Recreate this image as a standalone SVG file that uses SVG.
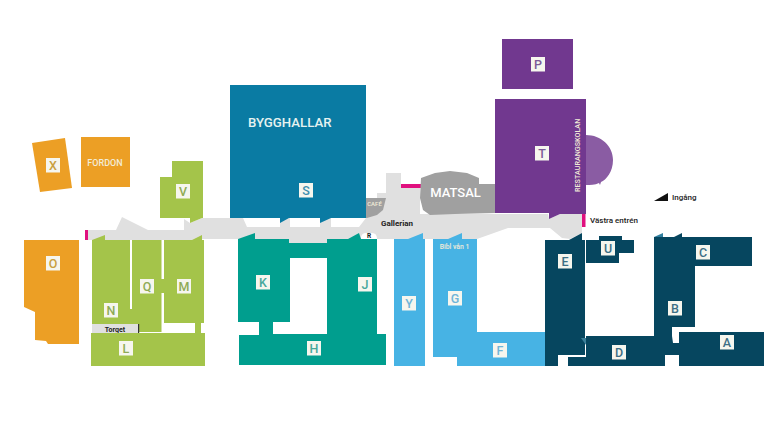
<svg xmlns="http://www.w3.org/2000/svg" width="780" height="440" viewBox="0 0 780 440">
<style>
text{font-family:"Roboto","Liberation Sans",sans-serif}
.box{fill:#f6f6ee}
.ltr{font-size:12.500px;font-weight:500;text-anchor:middle}
.lab{font-weight:500;fill:#f2ecd8}
.blk{font-weight:700;fill:#222}
.or{fill:#ec9f25}.gr{fill:#a4c44a}.te{fill:#009e8e}.bl{fill:#47b3e4}.na{fill:#06465f}.sb{fill:#0a7ba3}.pu{fill:#71388f}
.tna{fill:#2f7f9f}
</style>
<rect width="780" height="440" fill="#fff"/>
<g id="corridor">
<path fill="#e0e0e0" d="M88,230H116L122,217L148,230H184V219L190,223L202,218H243L247,227H280V218H290V227H320V218H331V227H359L366,218V198H377V193H386V173H401V188H420V214H495V214H548L549,219L560,214H582V227L582,233L570,239L562,238L550,228H508L477,239H361V233H377V239H361L348,239H327V243H289V239H204L192,240H88Z"/>
<path fill="#fff" d="M361,239V237Q362,233 366,233H372Q377,233 377,239Z"/>
</g>
<g id="connectors">
<rect x="85" y="230" width="3" height="10" fill="#e0107f"/>
<rect x="401" y="184" width="20" height="4" fill="#e0107f"/>
<rect x="582" y="213" width="3.500" height="14" fill="#e0107f"/>
<path fill="#111" d="M654,201L668,193V201Z"/>
</g>
<g id="X"><path class="or" d="M32,143L65,138L72,188L40,192Z"/><rect class="box" x="46" y="158" width="14" height="14.500"/><text class="ltr" x="53" y="169.700" fill="#c9a040">X</text></g>
<g id="FORDON"><rect class="or" x="81" y="137" width="49" height="50"/><text class="lab" x="105" y="165.500" font-size="9" text-anchor="middle">FORDON</text></g>
<g id="V"><path class="gr" d="M172,161H203V218H202L190,223V218H160V177H172Z"/><rect class="box" x="176" y="184" width="14" height="14.500"/><text class="ltr" x="183" y="195.700" fill="#8fab55">V</text></g>
<g id="O"><path class="or" d="M24,240H79V344H48L46,341L35,340V312L24,307Z"/><rect class="box" x="46" y="256" width="14" height="14.500"/><text class="ltr" x="53" y="267.700" fill="#c9a040">O</text></g>
<g id="N"><path class="gr" d="M92,240L105,235V240H130V309H132V240H161.500V332H92Z"/><rect class="box" x="104" y="303" width="14" height="14.500"/><text class="ltr" x="111" y="314.700" fill="#8fab55">N</text></g>
<g id="Q"><rect class="box" x="140" y="279" width="14" height="14.500"/><text class="ltr" x="147" y="290.700" fill="#8fab55">Q</text></g>
<g id="M"><path class="gr" d="M164,240H192L202,235V240H204V323H201V334H195V323H164V293H161V279H164Z"/><rect class="box" x="177" y="279" width="14" height="14.500"/><text class="ltr" x="184" y="290.700" fill="#8fab55">M</text></g>
<g id="Torget"><rect x="92" y="324" width="46" height="9" fill="#e0e0e0"/><rect x="138" y="324" width="1.200" height="10" fill="#333"/><text class="blk" x="115" y="331.500" font-size="7" text-anchor="middle">Torget</text></g>
<g id="L"><rect class="gr" x="91" y="333" width="114" height="33"/><rect class="box" x="119" y="341" width="14" height="14.500"/><text class="ltr" x="126" y="352.700" fill="#8fab55">L</text></g>
<g id="S"><path class="sb" d="M230,85H366V218H331L320,223V218H289L280,223V218H230Z"/><rect class="box" x="299" y="183" width="14" height="14.500"/><text class="ltr" x="306" y="194.700" fill="#3d8fae">S</text><text x="248" y="127" font-size="13.200" font-weight="500" fill="#e6f2f0">BYGGHALLAR</text></g>
<g id="H-J-K"><path class="te" fill-rule="evenodd" d="M238,239L255,233V239H289V243H327V239H348L359,233L361,239H377V334H386V365H239V335H259V322H238ZM290,258V322H273V334H327V258Z"/><rect class="box" x="256" y="275" width="14" height="14.500"/><text class="ltr" x="263" y="286.700" fill="#47a89c">K</text><rect class="box" x="358" y="277" width="14" height="14.500"/><text class="ltr" x="365" y="288.700" fill="#47a89c">J</text><rect class="box" x="307" y="341" width="14" height="14.500"/><text class="ltr" x="314" y="352.700" fill="#47a89c">H</text></g>
<g id="R"><text class="blk" x="369" y="238" font-size="6.500" text-anchor="middle">R</text></g>
<g id="Y"><path class="bl" d="M394,239H408L423,233V239H425V366H394Z"/><rect class="box" x="402" y="296" width="14" height="14.500"/><text class="ltr" x="409" y="307.700" fill="#6fb4d8">Y</text></g>
<g id="G-F"><path class="bl" d="M433,239H448L462,233V239H477V332H546V366H457V357H433Z"/><rect class="box" x="448" y="291" width="14" height="14.500"/><text class="ltr" x="455" y="302.700" fill="#6fb4d8">G</text><rect class="box" x="493" y="343" width="14" height="14.500"/><text class="ltr" x="500" y="354.700" fill="#6fb4d8">F</text><text class="lab" x="454.500" y="249" font-size="6.800" text-anchor="middle">Bibl vån 1</text></g>
<g id="E"><path class="na" d="M545,240H569L582,233V240H585V355H558V366H545Z"/><rect class="box" x="558" y="254" width="14" height="14.500"/><text class="ltr" x="565" y="265.700" fill="#3d6f85">E</text></g>
<g id="U"><path class="na" d="M586,240H599V236H622V240H634V253H619V263H586Z"/><rect class="box" x="601" y="241" width="14" height="14.500"/><text class="ltr" x="608" y="252.700" fill="#3d6f85">U</text></g>
<g id="B-C"><path class="na" d="M654,237H674L682,233V237H752V266H695V327H672V336H654Z"/><path class="tna" d="M654,237L663,233V237Z"/><rect class="box" x="696" y="245" width="14" height="14.500"/><text class="ltr" x="703" y="256.700" fill="#3d6f85">C</text><rect class="box" x="668" y="301" width="14" height="14.500"/><text class="ltr" x="675" y="312.700" fill="#3d6f85">B</text></g>
<g id="D"><path class="na" d="M586,336H672L673,343H679V355H665V366H568V357H586Z"/><path fill="#3a7f99" d="M581,338H586V345Z"/><rect class="box" x="612" y="345" width="14" height="14.500"/><text class="ltr" x="619" y="356.700" fill="#3d6f85">D</text></g>
<g id="A"><rect class="na" x="679" y="332" width="85" height="34"/><rect class="box" x="720" y="335" width="14" height="14.500"/><text class="ltr" x="727" y="346.700" fill="#3d6f85">A</text></g>
<g id="CAFE"><path fill="#a0a0a0" d="M366,198H386L383,210L377,215L367,218H366Z"/><text class="lab" x="374.500" y="206" font-size="6" text-anchor="middle">CAFÉ</text></g>
<g id="MATSAL"><path fill="#a0a0a0" d="M421,178L435,173L450,171L467,173L479,178V184H496V213L455,214L430,215L423,210L420,198Z"/><text x="455.500" y="197" font-size="13" font-weight="500" fill="#fff" text-anchor="middle">MATSAL</text></g>
<g id="P"><rect class="pu" x="502" y="39" width="71" height="50"/><rect class="box" x="531" y="57" width="14" height="14.500"/><text class="ltr" x="538" y="68.700" fill="#7d5a98">P</text></g>
<g id="T"><path fill="#8a5ca3" d="M586,135C601,135 613,146 613,160C613,172 606,180 601,182L600,185L599,183C595,185 590,185 586,185Z"/><path class="pu" d="M495,99H586V214H560L549,219V213H495Z"/><rect class="box" x="535" y="146" width="14" height="14.500"/><text class="ltr" x="542" y="157.700" fill="#7d5a98">T</text><text class="lab" transform="translate(580,192) rotate(-90)" font-size="7.200">RESTAURANGSKOLAN</text></g>
<g id="labels"><text class="blk" x="397" y="226" font-size="8" text-anchor="middle">Gallerian</text><text x="590" y="223" font-size="8" font-weight="500" fill="#222">Västra entrén</text><text x="672" y="200" font-size="8" font-weight="500" fill="#222">Ingång</text></g>
</svg>
